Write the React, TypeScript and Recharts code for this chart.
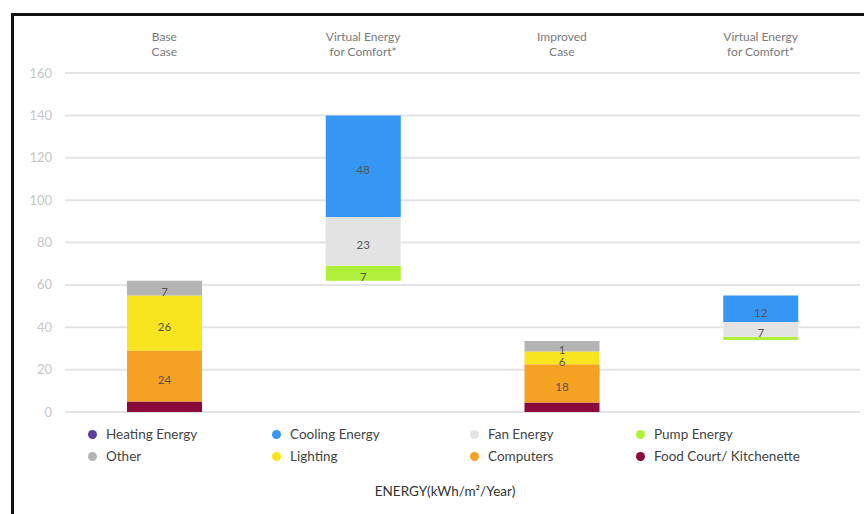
import { BarChart, Bar, XAxis, YAxis, CartesianGrid, LabelList } from 'recharts'

// categories (top axis), two lines each
const categories = ['Base|Case', 'Virtual Energy|for Comfort*', 'Improved|Case', 'Virtual Energy|for Comfort*']
const yTicks = [0, 20, 40, 60, 80, 100, 120, 140, 160]

// invisible base so the comfort bars float (waterfall)
const baseOffset = [0, 62, 0, 34]
const foodCourt = [5, 0, 4.5, 0]
const computers = [24, 0, 18, 0]
const lighting = [26, 0, 6, 0]
const other = [7, 0, 5, 0]
const pump = [0, 7, 0, 1.5]
const fan = [0, 23, 0, 7]
const cooling = [0, 48, 0, 12.5]
const heating = [0, 0, 0, 0]

// labels printed on the segments
const computersLabels = ['24', '', '18', '']
const lightingLabels = ['26', '', '6', '']
const otherLabels = ['7', '', '1', '']
const pumpLabels = ['', '7', '', '']
const fanLabels = ['', '23', '', '7']
const coolingLabels = ['', '48', '', '12']

const series = [
  { key: 'foodCourt', name: 'Food Court/ Kitchenette', color: '#8a0a3c', values: foodCourt, labels: null },
  { key: 'computers', name: 'Computers', color: '#f5a223', values: computers, labels: computersLabels },
  { key: 'lighting', name: 'Lighting', color: '#f8e41f', values: lighting, labels: lightingLabels },
  { key: 'other', name: 'Other', color: '#b4b4b4', values: other, labels: otherLabels },
  { key: 'pump', name: 'Pump Energy', color: '#aef03a', values: pump, labels: pumpLabels },
  { key: 'fan', name: 'Fan Energy', color: '#e3e3e3', values: fan, labels: fanLabels },
  { key: 'cooling', name: 'Cooling Energy', color: '#3597f3', values: cooling, labels: coolingLabels },
  { key: 'heating', name: 'Heating Energy', color: '#5a3f9c', values: heating, labels: null },
]

const legendOrder = [
  'heating', 'cooling', 'fan', 'pump',
  'other', 'lighting', 'computers', 'foodCourt',
]

const data = categories.map((c, i) => {
  const row: Record<string, number | string> = { name: c, idx: i, base: baseOffset[i] }
  series.forEach(s => {
    row[s.key] = s.values[i]
    if (s.labels) row[s.key + 'Label'] = s.labels[i]
  })
  return row
})

const FONT = 'Lato, "Open Sans", sans-serif'

function TopTick(props: any) {
  const { x, y, payload } = props
  const lines = String(categories[payload.value] ?? '').split('|')
  return (
    <text x={x} y={y} textAnchor="middle" fill="#7a7a7a" fontSize={12} fontFamily={FONT}>
      <tspan x={x} dy={-24}>{lines[0]}</tspan>
      <tspan x={x} dy={15}>{lines[1]}</tspan>
    </text>
  )
}

// segment label, sits a little below the middle like the original
function SegLabel(props: any) {
  const { x, y, width, height, value } = props
  if (!value) return null
  return (
    <text x={x + width / 2} y={y + height / 2 + 8} textAnchor="middle" fill="#555" fontSize={11.5} fontFamily={FONT}>
      {value}
    </text>
  )
}

export default function App() {
  const legendItems = legendOrder.map(k => series.find(s => s.key === k)!)
  return (
    <div style={{ position: 'absolute', left: 0, top: 0, width: 864, height: 514, background: '#fff', overflow: 'hidden', fontFamily: FONT }}>
      <div style={{ position: 'absolute', left: 11, top: 13, width: 900, height: 540, borderLeft: '3px solid #111', borderTop: '3px solid #111' }} />
      <div style={{ position: 'absolute', left: 0, top: 0 }}>
        <BarChart width={864} height={420} data={data} margin={{ top: 20, right: 4, left: 0, bottom: 8 }} barSize={75}>
          <CartesianGrid vertical={false} stroke="#e4e4e4" strokeWidth={2} />
          <XAxis
            dataKey="idx"
            orientation="top"
            height={53}
            axisLine={false}
            tickLine={false}
            tick={<TopTick />}
            interval={0}
          />
          <YAxis
            domain={[0, 160]}
            ticks={yTicks}
            width={65}
            axisLine={false}
            tickLine={false}
            tickMargin={7}
            tick={{ fontSize: 13, fill: '#c6c6c6', fontFamily: FONT }}
          />
          <Bar dataKey="base" stackId="a" fill="transparent" isAnimationActive={false} />
          {series.map(s => (
            <Bar key={s.key} dataKey={s.key} stackId="a" fill={s.color} isAnimationActive={false}>
              {s.labels && <LabelList dataKey={s.key + 'Label'} content={<SegLabel />} />}
            </Bar>
          ))}
        </BarChart>
      </div>
      <div style={{ position: 'absolute', left: 88, top: 425, width: 760, display: 'grid', gridTemplateColumns: '184px 198px 166px 200px', rowGap: 4 }}>
        {legendItems.map(s => (
          <div key={s.key} style={{ display: 'flex', alignItems: 'center', height: 18, fontSize: 13.5, color: '#444' }}>
            <span style={{ width: 9, height: 9, borderRadius: 5, background: s.color, marginRight: 9, display: 'inline-block' }} />
            {s.name}
          </div>
        ))}
      </div>
      <div style={{ position: 'absolute', left: 0, width: 890, top: 483, textAlign: 'center', fontSize: 13.5, color: '#333' }}>
        ENERGY(kWh/m²/Year)
      </div>
    </div>
  )
}
